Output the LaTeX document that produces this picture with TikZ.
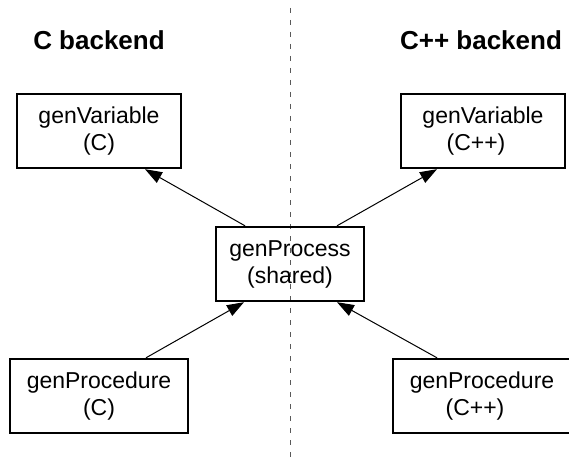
\documentclass[tikz,border=0pt]{standalone}
\usepackage{fontspec}
\setmainfont{Liberation Sans}
\usetikzlibrary{arrows.meta}

\begin{document}
\begin{tikzpicture}[x=1pt,y=-1pt,
  fnbox/.style={draw,line width=2.4pt,minimum height=74pt,inner sep=0pt,
    align=center,font=\fontsize{23}{27}\selectfont},
  heading/.style={font=\fontsize{26}{30}\selectfont\bfseries,anchor=base},
  calls/.style={line width=1pt,-{Triangle[length=17pt,width=12pt]}},
  divider/.style={draw=gray!70!black,line width=1pt,dash pattern=on 5pt off 7pt}]
  \useasboundingbox (0,0) rectangle (569,457);

  % column headings
  \node[heading] (hc) at (99,50) {C backend};
  \node[heading] (hcpp) at (481,50) {C++ backend};

  % divider between the two backends
  \coordinate (dtop) at (290.5,8);
  \coordinate (dbot) at (290.5,457);
  \draw[divider] (dtop) -- (dbot);

  % generator functions
  \node[fnbox,minimum width=164pt] (varc)   at (99,131)  {genVariable\\(C)};
  \node[fnbox,minimum width=164pt] (varcpp) at (483,131) {genVariable\\(C++)\kern14pt};
  \node[fnbox,minimum width=148pt] (proc)   at (290,264) {genProcess\\(shared)};
  \node[fnbox,minimum width=178pt] (pdc)    at (99,396)  {genProcedure\\(C)};
  \node[fnbox,minimum width=178pt] (pdcpp)  at (482,396) {genProcedure\\(C++)\kern14pt};

  % call edges
  \draw[calls] ([xshift=-45pt]proc.north) -- ([xshift=46pt]varc.south);
  \draw[calls] ([xshift=47pt]proc.north)  -- ([xshift=-46pt]varcpp.south);
  \draw[calls] ([xshift=47pt]pdc.north)   -- ([xshift=-46pt]proc.south);
  \draw[calls] ([xshift=-45pt]pdcpp.north) -- ([xshift=47pt]proc.south);
\end{tikzpicture}
\end{document}
